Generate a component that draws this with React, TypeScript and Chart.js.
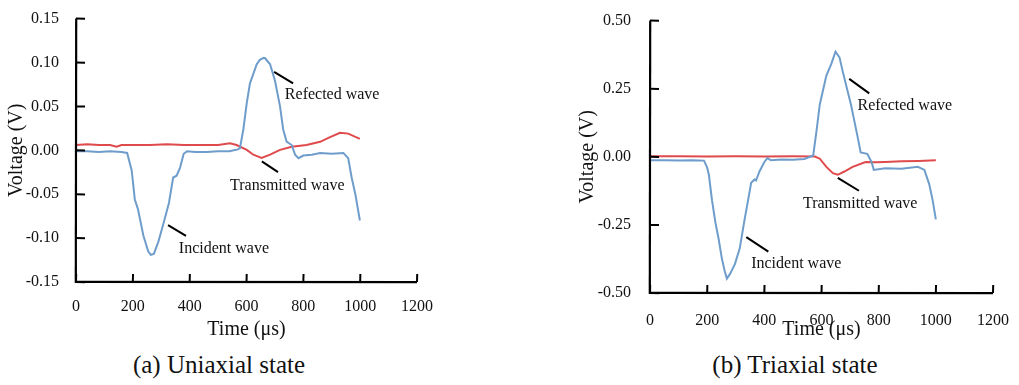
import React, { useEffect, useRef } from "react";
import { Chart, registerables } from "chart.js";

Chart.register(...registerables);

// ---------- (a) Uniaxial state ----------
const uniIncRefTime = [0, 40, 80, 120, 160, 180, 196, 207, 218, 237, 254, 263, 274, 290, 309, 327, 342, 354, 366, 379, 391, 420, 460, 500, 540, 555, 570, 577, 589, 601, 612, 624, 636, 647, 659, 665, 683, 700, 718, 729, 741, 759, 771, 783, 800, 830, 859, 900, 941, 958, 970, 983, 999];
const uniIncRefVolt = [-0.001, -0.001, -0.002, -0.001, -0.002, -0.003, -0.023, -0.056, -0.067, -0.097, -0.115, -0.119, -0.118, -0.104, -0.082, -0.060, -0.031, -0.029, -0.020, -0.004, -0.001, -0.002, -0.002, -0.001, -0.001, 0.000, 0.001, 0.0024, 0.024, 0.054, 0.076, 0.087, 0.098, 0.103, 0.105, 0.105, 0.098, 0.0795, 0.050, 0.024, 0.010, 0.006, -0.005, -0.009, -0.006, -0.005, -0.003, -0.004, -0.003, -0.009, -0.031, -0.050, -0.080];
const uniTransTime = [0, 40, 80, 120, 143, 160, 200, 260, 320, 380, 440, 500, 542, 565, 601, 624, 653, 683, 718, 759, 811, 859, 894, 929, 958, 999];
const uniTransVolt = [0.006, 0.007, 0.006, 0.006, 0.004, 0.006, 0.006, 0.006, 0.007, 0.006, 0.006, 0.006, 0.008, 0.006, 0.0005, -0.005, -0.0086, -0.005, 0.0005, 0.004, 0.006, 0.0097, 0.015, 0.020, 0.019, 0.013];

// ---------- (b) Triaxial state ----------
const triIncRefTime = [0, 50, 100, 150, 189, 200, 206, 217, 229, 240, 251, 261, 269, 280, 297, 314, 331, 343, 354, 366, 371, 383, 400, 411, 423, 460, 500, 540, 571, 583, 594, 617, 634, 649, 663, 675, 703, 726, 737, 760, 775, 783, 823, 880, 937, 960, 977, 989, 1000];
const triIncRefVolt = [-0.013, -0.013, -0.014, -0.013, -0.014, -0.040, -0.066, -0.160, -0.242, -0.301, -0.371, -0.418, -0.447, -0.430, -0.394, -0.336, -0.230, -0.160, -0.095, -0.083, -0.087, -0.054, -0.019, -0.005, -0.013, -0.010, -0.011, -0.008, 0.005, 0.099, 0.192, 0.298, 0.340, 0.386, 0.365, 0.310, 0.192, 0.075, 0.016, 0.011, -0.019, -0.048, -0.042, -0.044, -0.037, -0.048, -0.101, -0.160, -0.230];
const triTransTime = [0, 100, 200, 300, 400, 500, 577, 594, 617, 640, 657, 680, 709, 754, 790, 823, 880, 940, 1000];
const triTransVolt = [0.002, 0.002, 0.001, 0.002, 0.001, 0.002, 0.001, -0.007, -0.037, -0.060, -0.066, -0.054, -0.037, -0.019, -0.020, -0.019, -0.016, -0.015, -0.013];

const xTickMin = 0;
const xTickMax = 1200;
const xTickStep = 200;

const uniYRange = [-0.15, 0.15, 0.05];
const triYRange = [-0.5, 0.5, 0.25];

type Note = { text: string; tx: number; ty: number; x1: number; y1: number; x2: number; y2: number };

const uniNotes: Note[] = [
  { text: "Refected wave", tx: 735, ty: 0.063, x1: 697, y1: 0.0894, x2: 764, y2: 0.0762 },
  { text: "Transmitted wave", tx: 542, ty: -0.0402, x1: 654, y1: -0.0127, x2: 711, y2: -0.0248 },
  { text: "Incident wave", tx: 362, ty: -0.1118, x1: 324, y1: -0.0853, x2: 387, y2: -0.0975 },
];
const triNotes: Note[] = [
  { text: "Refected wave", tx: 726, ty: 0.1866, x1: 697, y1: 0.286, x2: 767, y2: 0.233 },
  { text: "Transmitted wave", tx: 535, ty: -0.171, x1: 657, y1: -0.0775, x2: 731, y2: -0.1246 },
  { text: "Incident wave", tx: 354, ty: -0.394, x1: 337, y1: -0.295, x2: 414, y2: -0.348 },
];

const FONT = '"Liberation Serif", "Times New Roman", serif';
const BLUE = "#6f9dcb";
const RED = "#df4a4c";

const toPoints = (t: number[], v: number[]) => t.map((x, i) => ({ x, y: v[i] }));

const seg = (ctx: CanvasRenderingContext2D, x1: number, y1: number, x2: number, y2: number) => {
  ctx.beginPath();
  ctx.moveTo(x1, y1);
  ctx.lineTo(x2, y2);
  ctx.stroke();
};

const axesPlugin = {
  id: "axesAndNotes",
  afterDraw(chart: any, _args: any, opts: any) {
    const ctx: CanvasRenderingContext2D = chart.ctx;
    const xs = chart.scales.x;
    const ys = chart.scales.y;
    const x0 = xs.getPixelForValue(xs.min);
    const x1 = xs.getPixelForValue(xs.max);
    const y0 = ys.getPixelForValue(ys.min);
    const y1 = ys.getPixelForValue(ys.max);
    ctx.save();
    ctx.strokeStyle = "#000000";
    ctx.lineWidth = 2.2;
    seg(ctx, x0 + 0.2, y1, x0 - 0.2, y0 + 1);
    seg(ctx, x0 - 1, y0 - 0.2, x1, y0 + 0.2);
    ctx.lineWidth = 2;
    const xt: any[] = xs.ticks || [];
    xt.forEach((t: any) => {
      const px = xs.getPixelForValue(t.value);
      seg(ctx, px, y0, px + 0.2, y0 - 8);
    });
    const yt: any[] = ys.ticks || [];
    yt.forEach((t: any) => {
      const py = ys.getPixelForValue(t.value);
      seg(ctx, x0, py, x0 + 9, py + 0.2);
    });
    const notes: Note[] = (opts && opts.items) || [];
    ctx.fillStyle = "#111";
    ctx.font = `16px ${FONT}`;
    ctx.textAlign = "left";
    ctx.textBaseline = "middle";
    notes.forEach((n) => {
      seg(ctx, xs.getPixelForValue(n.x1), ys.getPixelForValue(n.y1), xs.getPixelForValue(n.x2), ys.getPixelForValue(n.y2));
      ctx.fillText(n.text, xs.getPixelForValue(n.tx), ys.getPixelForValue(n.ty));
    });
    ctx.restore();
  },
};

type Layout = {
  left: number;
  width: number;
  height: number;
  padTop: number;
  padRight: number;
  yWidth: number;
  xHeight: number;
  xLabelPad: number;
  yLabelPad: number;
  yTitlePad: number;
};

function WaveChart(props: {
  blue: { x: number; y: number }[];
  red: { x: number; y: number }[];
  yRange: number[];
  notes: Note[];
  lay: Layout;
}) {
  const ref = useRef<HTMLCanvasElement | null>(null);
  const { blue, red, yRange, notes, lay } = props;
  useEffect(() => {
    if (!ref.current) return;
    const chart = new Chart(ref.current, {
      type: "line",
      data: {
        datasets: [
          { label: "Incident / Reflected", data: blue, borderColor: BLUE, borderWidth: 2, pointRadius: 0, tension: 0, fill: false },
          { label: "Transmitted", data: red, borderColor: RED, borderWidth: 2, pointRadius: 0, tension: 0, fill: false },
        ],
      },
      options: {
        responsive: false,
        animation: false,
        devicePixelRatio: 1,
        layout: { padding: { left: 0, top: lay.padTop, right: lay.padRight, bottom: 0 } },
        plugins: {
          legend: { display: false },
          tooltip: { enabled: false },
          axesAndNotes: { items: notes },
        } as any,
        scales: {
          x: {
            type: "linear",
            min: xTickMin,
            max: xTickMax,
            ticks: {
              stepSize: xTickStep,
              color: "#111",
              font: { family: FONT, size: 16 },
              padding: lay.xLabelPad,
              maxRotation: 0,
              callback: (v: any) => String(Math.round(Number(v))),
            },
            grid: { display: false },
            border: { display: false },
            title: { display: true, text: "Time (μs)", color: "#111", font: { family: FONT, size: 20 }, padding: { top: 0, bottom: 3 } },
            afterFit: (s: any) => {
              s.height = lay.xHeight;
            },
          },
          y: {
            type: "linear",
            min: yRange[0],
            max: yRange[1],
            ticks: {
              stepSize: yRange[2],
              color: "#111",
              font: { family: FONT, size: 16 },
              padding: lay.yLabelPad,
              callback: (v: any) => {
                const n = Number(v);
                return (Math.abs(n) < 1e-9 ? 0 : n).toFixed(2);
              },
            },
            grid: { display: false },
            border: { display: false },
            title: { display: true, text: "Voltage (V)", color: "#111", font: { family: FONT, size: 20 }, padding: { top: lay.yTitlePad, bottom: 0 } },
            afterFit: (s: any) => {
              s.width = lay.yWidth;
            },
          },
        },
      } as any,
      plugins: [axesPlugin],
    });
    return () => chart.destroy();
  }, []);
  return (
    <canvas
      ref={ref}
      width={lay.width}
      height={lay.height}
      style={{ position: "absolute", left: lay.left, top: 0, width: lay.width, height: lay.height }}
    />
  );
}

const uniLayout: Layout = { left: 0, width: 470, height: 345, padTop: 9, padRight: 53, yWidth: 76, xHeight: 63, xLabelPad: 7, yLabelPad: 9, yTitlePad: 5 };
const triLayout: Layout = { left: 560, width: 459, height: 345, padTop: 9, padRight: 19, yWidth: 90, xHeight: 52, xLabelPad: 10, yLabelPad: 11, yTitlePad: 16 };

const captionStyle: React.CSSProperties = {
  position: "absolute",
  top: 350,
  height: 30,
  lineHeight: "30px",
  fontFamily: FONT,
  fontSize: 25,
  color: "#111",
  textAlign: "center",
  whiteSpace: "nowrap",
};

export default function App() {
  return (
    <div style={{ position: "absolute", left: 0, top: 0, width: 1019, height: 385, background: "#fff", overflow: "hidden" }}>
      <WaveChart blue={toPoints(uniIncRefTime, uniIncRefVolt)} red={toPoints(uniTransTime, uniTransVolt)} yRange={uniYRange} notes={uniNotes} lay={uniLayout} />
      <WaveChart blue={toPoints(triIncRefTime, triIncRefVolt)} red={toPoints(triTransTime, triTransVolt)} yRange={triYRange} notes={triNotes} lay={triLayout} />
      <div style={{ ...captionStyle, left: 19, width: 400 }}>(a) Uniaxial state</div>
      <div style={{ ...captionStyle, left: 595, width: 400 }}>(b) Triaxial state</div>
    </div>
  );
}
